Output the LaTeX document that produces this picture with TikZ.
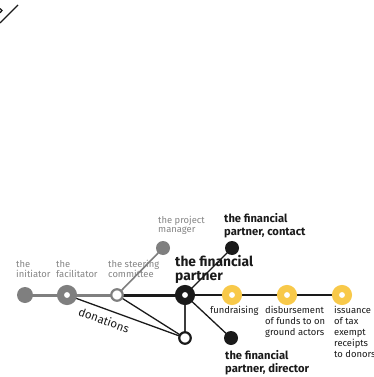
\documentclass[tikz,border=0pt]{standalone}
\usepackage{fontspec}
\setmainfont{Fira Sans}
\definecolor{tgray}{HTML}{858585}
\definecolor{ngray}{HTML}{7F7F7F}
\definecolor{nblack}{HTML}{1A1A1A}
\definecolor{nyellow}{HTML}{F8C94A}
\begin{document}
\begin{tikzpicture}[x=1pt,y=-1pt,
  glab/.style={text=tgray,font=\fontsize{9.4}{9.5}\selectfont,align=left,inner sep=0pt,anchor=base west},
  blab/.style={text=nblack,font=\fontsize{9.4}{11}\selectfont,align=left,inner sep=0pt,anchor=base west},
  bblab/.style={text=nblack,font=\bfseries\fontsize{11.2}{12.5}\selectfont,align=left,inner sep=0pt,anchor=base west},
  hlab/.style={text=nblack,font=\bfseries\fontsize{13.8}{13.5}\selectfont,align=left,inner sep=0pt,anchor=base west},
  ring/.style={circle,minimum size=13pt,inner sep=0pt,draw=#1,line width=7pt,fill=white},
  dot/.style={circle,minimum size=15pt,inner sep=0pt,fill=#1},
  hollow/.style={circle,minimum size=11.5pt,inner sep=0pt,draw=#1,line width=2.2pt,fill=white},
  thickg/.style={draw=ngray,line width=3pt},
  thickb/.style={draw=nblack,line width=3pt},
  thinb/.style={draw=nblack,line width=1.3pt},
  thing/.style={draw=ngray,line width=1.6pt}]
\useasboundingbox (0,0) rectangle (373,377);
% top-left fragment
\coordinate (tl1) at (0,23);
\coordinate (tl2) at (18,5);
\draw[nblack,line width=1.2pt] (tl1) -- (tl2);
\draw[nblack,line width=1.3pt] (0,8.5) .. controls (2.6,9) and (2.6,12) .. (0,12.8);
% node positions
\coordinate (pInit) at (25,295);
\coordinate (pFac) at (67,295);
\coordinate (pSteer) at (117,295);
\coordinate (pPM) at (163,248);
\coordinate (pFP) at (185,295);
\coordinate (pLow) at (185,338);
\coordinate (pCon) at (232,248);
\coordinate (pDir) at (231,338);
\coordinate (pFund) at (232,295);
\coordinate (pDisb) at (287,295);
\coordinate (pIss) at (342,295);
% labels
\node[glab] (linit) at (16,277) {the\\initiator};
\node[glab] (lfac) at (56,277) {the\\facilitator};
\node[glab] (lsteer) at (108,277) {the steering\\committee};
\node[glab] (lpm) at (158,232.5) {the project\\manager};
\node[hlab] (lfp) at (175,280) {the financial\\partner};
\node[bblab] (lcon) at (224,235) {the financial\\partner, contact};
\node[bblab] (ldir) at (225,372) {the financial\\partner, director};
\node[blab] (lfund) at (210,313) {fundraising};
\node[blab] (ldisb) at (265,335) {disbursement\\of funds to on\\ground actors};
\node[blab] (liss) at (334,357) {issuance\\of tax\\exempt\\receipts\\to donors};
\node[text=nblack,font=\fontsize{11.5}{12}\selectfont,rotate=-20,inner sep=0pt] (ldon) at (104,320) {donations};
% edges
\draw[thinb] (pFac) -- (pLow);
\draw[thinb] (pSteer) -- (pLow);
\draw[thinb] (pFP) -- (pIss);
\draw[thickg] (pInit) -- (pSteer);
\draw[thickb] (pSteer) -- (pFP);
\draw[thing] (pSteer) -- (pPM);
\draw[thinb] (pFP) -- (pCon);
\draw[thinb] (pFP) -- (pDir);
\draw[draw=nblack!85,line width=1.6pt] (pFP) -- (pLow);
% nodes
\node[dot=ngray,minimum size=16pt] (init) at (pInit) {};
\node[ring=ngray] (fac) at (pFac) {};
\node[hollow=ngray] (steer) at (pSteer) {};
\node[dot=ngray,minimum size=14pt] (pm) at (pPM) {};
\node[ring=nblack] (fp) at (pFP) {};
\node[hollow=nblack] (low) at (pLow) {};
\node[dot=nblack,minimum size=14pt] (con) at (pCon) {};
\node[dot=nblack,minimum size=14pt] (dir) at (pDir) {};
\node[ring=nyellow] (fund) at (pFund) {};
\node[ring=nyellow] (disb) at (pDisb) {};
\node[ring=nyellow] (iss) at (pIss) {};
\end{tikzpicture}
\end{document}
